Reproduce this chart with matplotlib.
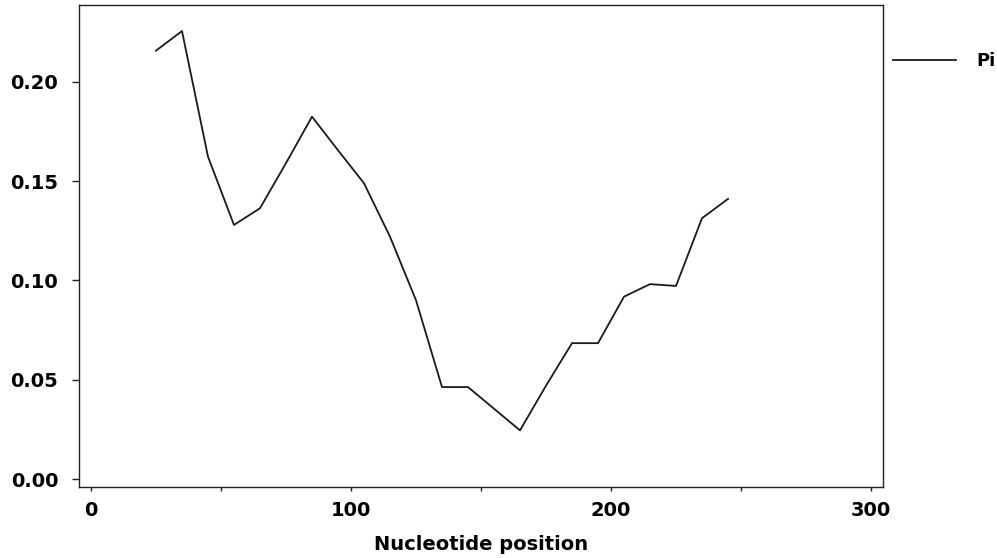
import matplotlib
matplotlib.use("Agg")
import matplotlib.pyplot as plt

# nucleotide diversity (Pi) along the sequence, sliding window
position = [25, 35, 45, 55, 65, 75, 85, 95, 105, 115, 125, 135,
            145, 155, 165, 175, 185, 195, 205, 215, 225, 235, 245]
pi = [0.2156, 0.2255, 0.1623, 0.1279, 0.1363, 0.1590, 0.1824, 0.1655,
      0.1489, 0.1220, 0.0900, 0.0463, 0.0463, 0.0354, 0.0245, 0.0470,
      0.0684, 0.0684, 0.0918, 0.0981, 0.0972, 0.1313, 0.1410]
xticks = [0, 100, 200, 300]
xminor = [50, 150, 250]
yticks = [0.00, 0.05, 0.10, 0.15, 0.20]

plt.rcParams["font.family"] = "DejaVu Sans"
plt.rcParams["font.weight"] = "bold"

fig = plt.figure(figsize=(9.97, 5.58), dpi=100)
ax = fig.add_axes([79 / 997, 1 - 487 / 558, 804 / 997, 482 / 558])

line, = ax.plot(position, pi, color="#1a1a1a", linewidth=1.3, label="Pi")

ax.set_xlim(-4.6, 304.6)
ax.set_ylim(-0.004, 0.2386)
ax.set_xticks(xticks)
ax.set_xticks(xminor, minor=True)
ax.set_yticks(yticks)
ax.set_yticklabels(["%.2f" % v for v in yticks])

for s in ax.spines.values():
    s.set_linewidth(1.0)
    s.set_color("#222222")
ax.tick_params(axis="y", length=5, width=1, pad=10, labelsize=14,
               color="#222222")
ax.tick_params(axis="x", which="both", length=3, width=1, pad=7,
               labelsize=14, color="#222222")

ax.set_xlabel("Nucleotide position", fontsize=14, fontweight="bold",
              labelpad=11)

fig.legend(handles=[line], loc="center left",
           bbox_to_anchor=(893 / 997, 1 - 61 / 558), frameon=False,
           borderpad=0, borderaxespad=0, handlelength=3.5,
           handletextpad=1.1, prop={"size": 13, "weight": "bold"})

fig.savefig("out.png", dpi=100)
